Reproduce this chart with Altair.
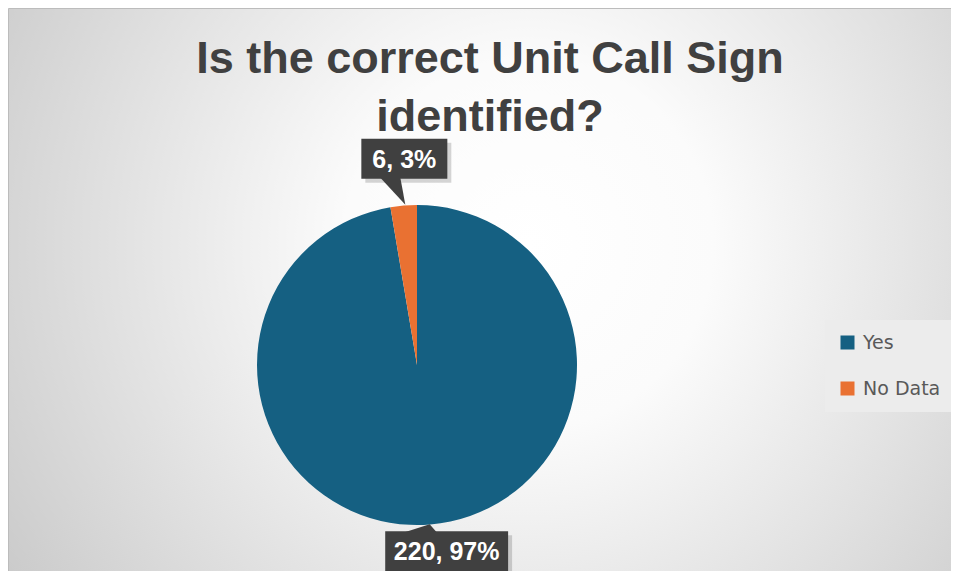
import altair as alt
import pandas as pd
import math

# ---- data ----
categories = ["Yes", "No Data"]
values = [220, 6]
colors = ["#156082", "#E97132"]
title_lines = ["Is the correct Unit Call Sign", "identified?"]

# ---- layout (pixels, chart coordinates) ----
W, H = 943, 563
CX, CY, R = 409, 357, 160
LABEL_R = 200
label_nudge = {"Yes": (13, -13), "No Data": (4, -7)}

total = sum(values)
rows = []
cum = 0.0
for i, (c, v) in enumerate(zip(categories, values)):
    start = cum / total * 360
    cum += v
    end = cum / total * 360
    mid = math.radians((start + end) / 2)
    pct = round(v / total * 100)
    txt = f"{v}, {pct}%"
    nx, ny = label_nudge[c]
    lx = CX + LABEL_R * math.sin(mid) + nx
    ly = CY - LABEL_R * math.cos(mid) + ny
    bw = 12.3 * len(txt) + 24.5
    bh = 40
    rows.append(dict(category=c, value=v, idx=i, label=txt, lx=lx, ly=ly,
                     bx=lx - bw / 2, bx2=lx + bw / 2, by=ly - bh / 2, by2=ly + bh / 2,
                     sx=lx - bw / 2 + 4, sx2=lx + bw / 2 + 4, sy=ly - bh / 2 + 4, sy2=ly + bh / 2 + 4))
df = pd.DataFrame(rows)

xs = alt.Scale(domain=[0, W], range=[0, W])
ys = alt.Scale(domain=[0, H], range=[0, H])

gradient = {
    "gradient": "radial",
    "x1": 0.55, "y1": 0.45, "r1": 0,
    "x2": 0.55, "y2": 0.45, "r2": 0.78,
    "stops": [
        {"offset": 0, "color": "#ffffff"},
        {"offset": 0.25, "color": "#fbfbfb"},
        {"offset": 1, "color": "#bdbdbd"},
    ],
}

bg = alt.Chart(pd.DataFrame({"a": [0]})).mark_rect(
    fill=gradient, stroke="#bcbcbc", strokeWidth=1
).encode(x=alt.value(0.5), x2=alt.value(W + 4), y=alt.value(0.5), y2=alt.value(H + 4))

pie = alt.Chart(df).mark_arc(outerRadius=R).encode(
    theta=alt.Theta("value:Q", stack=True),
    color=alt.Color(
        "category:N",
        scale=alt.Scale(domain=categories, range=colors),
        legend=alt.Legend(
            title=None, orient="none", legendX=817, legendY=312,
            fillColor="#ececec", padding=13, symbolType="square",
            symbolSize=196, symbolStrokeWidth=0, labelFontSize=19,
            labelFont="DejaVu Sans", labelColor="#595959",
            rowPadding=26, labelOffset=6, symbolOpacity=1,
        ),
    ),
    order=alt.Order("idx:Q"),
    x=alt.value(CX),
    y=alt.value(CY),
)

shadow = alt.Chart(df).mark_rect(color="#000000", opacity=0.16).encode(
    x=alt.X("sx:Q", scale=xs, axis=None), x2="sx2:Q",
    y=alt.Y("sy:Q", scale=ys, axis=None), y2="sy2:Q",
)

box = alt.Chart(df).mark_rect(color="#404040").encode(
    x=alt.X("bx:Q", scale=xs, axis=None), x2="bx2:Q",
    y=alt.Y("by:Q", scale=ys, axis=None), y2="by2:Q",
)

# callout pointers (custom symbol path in pixel units relative to label centre)
ptr_small = alt.Chart(df[df.category == "No Data"]).mark_point(
    shape="M -24 19 L -4 19 L 1 46 Z", size=4, filled=True, color="#404040",
    opacity=1, strokeWidth=0,
).encode(x=alt.X("lx:Q", scale=xs, axis=None), y=alt.Y("ly:Q", scale=ys, axis=None))

ptr_big = alt.Chart(df[df.category == "Yes"]).mark_point(
    shape="M -42 -19 L -10 -19 L -17 -27 Z", size=4, filled=True, color="#404040",
    opacity=1, strokeWidth=0,
).encode(x=alt.X("lx:Q", scale=xs, axis=None), y=alt.Y("ly:Q", scale=ys, axis=None))

labels = alt.Chart(df).mark_text(
    color="#ffffff", fontSize=25, fontWeight="bold", font="Liberation Sans",
    align="center", baseline="middle", dy=1,
).encode(
    x=alt.X("lx:Q", scale=xs, axis=None),
    y=alt.Y("ly:Q", scale=ys, axis=None),
    text="label:N",
)

tdf = pd.DataFrame({"line": title_lines, "ty": [65 + 58 * i for i in range(len(title_lines))]})
title = alt.Chart(tdf).mark_text(
    color="#404040", fontSize=45, fontWeight="bold", font="Liberation Sans",
    align="center", baseline="alphabetic",
).encode(
    x=alt.value(482),
    y=alt.Y("ty:Q", scale=ys, axis=None),
    text="line:N",
)

chart = alt.layer(bg, pie, shadow, ptr_small, ptr_big, box, labels, title).properties(
    width=W, height=H,
    autosize=alt.AutoSizeParams(type="none"),
    padding=0,
    background="#ffffff",
).configure_view(stroke=None)

chart.save("out.html", embed_options={"renderer": "svg", "actions": False})
